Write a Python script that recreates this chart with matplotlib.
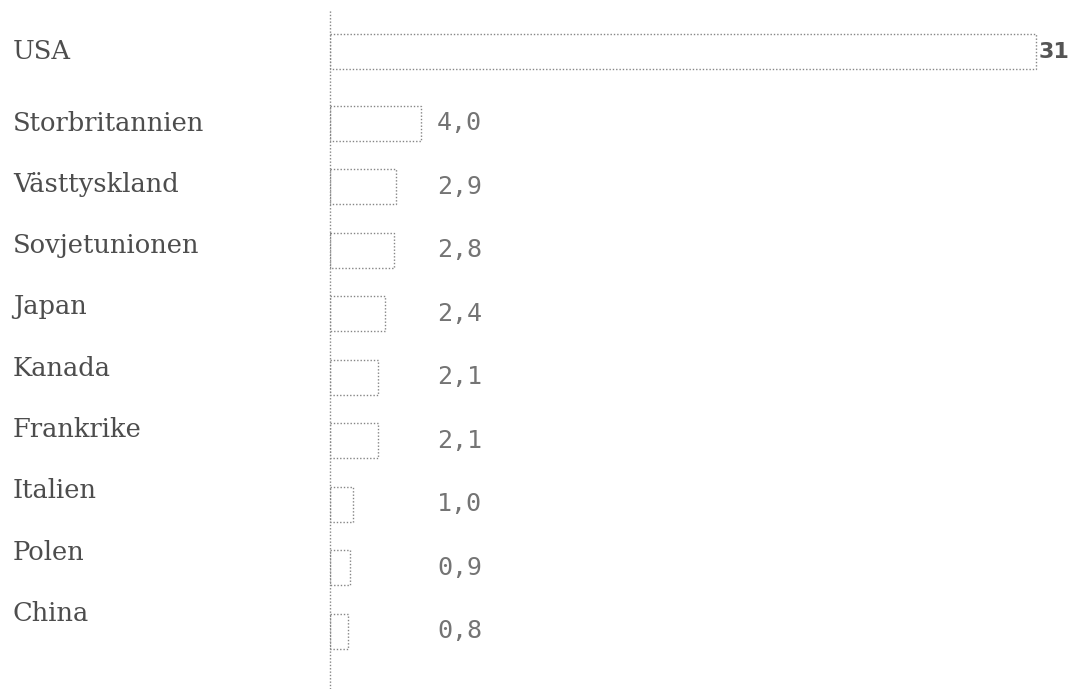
import matplotlib.pyplot as plt
from matplotlib.transforms import blended_transform_factory

# data
countries = ["USA", "Storbritannien", "Västtyskland", "Sovjetunionen", "Japan",
             "Kanada", "Frankrike", "Italien", "Polen", "China"]
values = [31, 4.0, 2.9, 2.8, 2.4, 2.1, 2.1, 1.0, 0.9, 0.8]
value_labels = ["31", "4,0", "2,9", "2,8", "2,4", "2,1", "2,1", "1,0", "0,9", "0,8"]

W, H = 1068, 689
fig = plt.figure(figsize=(W / 100, H / 100), dpi=100)
ax = fig.add_axes([330 / W, 0, 1 - 330 / W, 1 - 10 / H])

# first row (USA) sits a bit further apart from the rest
ypos = [0] + [i + 0.12 for i in range(1, len(countries))]
# typed labels on the left drift slightly tighter than the bars
label_y = [0] + [1.12 + (i - 1) * 0.965 for i in range(1, len(countries))]

dots = (0, (1, 1.4))
ax.barh(ypos, values, height=0.55, left=0, facecolor="none",
        edgecolor="#858585", linestyle=dots, linewidth=1.0)

ax.set_xlim(0, 738 / 22.77)
ax.set_ylim(10.03, -0.66)
ax.axis("off")
ax.plot([0, 0], [10.03, -0.66], color="#858585", linestyle=dots,
        linewidth=1.0, clip_on=False)

lab_tr = blended_transform_factory(fig.transFigure, ax.transData)
for y, name in zip(label_y, countries):
    ax.text(13 / W, y, name, transform=lab_tr, family="DejaVu Serif",
            fontsize=18.5, color="#4d4d4d", va="center", ha="left")

for i, (y, v, lab) in enumerate(zip(ypos, values, value_labels)):
    if i == 0:
        ax.text(v + 0.12, y, lab, family="DejaVu Sans", fontsize=16,
                fontweight="bold", color="#555555", va="center", ha="left")
    else:
        ax.text(437 / W, y, lab, transform=lab_tr, family="DejaVu Sans Mono",
                fontsize=18, color="#747474", va="center", ha="left")

fig.savefig("out.png", dpi=100, facecolor="white")
